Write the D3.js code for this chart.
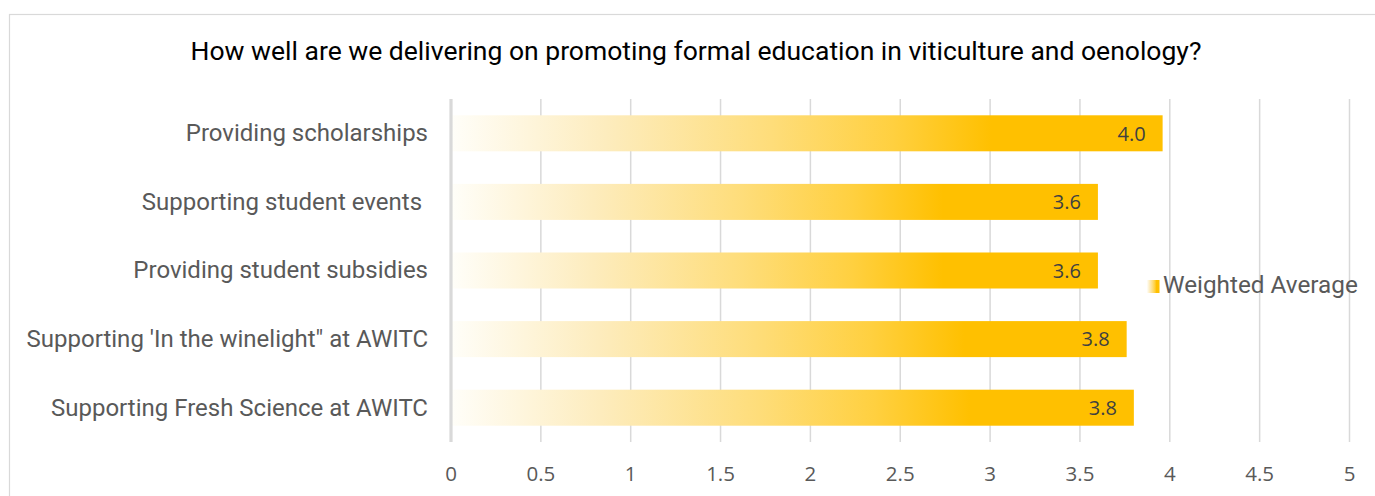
<!DOCTYPE html>
<html><head><meta charset="utf-8">
<script src="https://cdn.jsdelivr.net/npm/d3@7"></script>
<style>
html,body{margin:0;padding:0;background:#fff;}
svg{display:block;}
</style></head>
<body>
<svg id="chart" width="1375" height="496"></svg>
<script>
const title = "How well are we delivering on promoting formal education in viticulture and oenology?";
const categories = [
  "Providing scholarships",
  "Supporting student events ",
  "Providing student subsidies",
  "Supporting 'In the winelight\" at AWITC",
  "Supporting Fresh Science at AWITC"
];
const values = [3.96, 3.6, 3.6, 3.76, 3.8];
const seriesName = "Weighted Average";
const xTicks = [0, 0.5, 1, 1.5, 2, 2.5, 3, 3.5, 4, 4.5, 5];

const svg = d3.select("#chart");
const W = 1375, H = 496;
const plot = {left: 451, right: 1349.5, top: 99, bottom: 442};

// gradient
const defs = svg.append("defs");
const grad = defs.append("linearGradient").attr("id", "barGrad")
  .attr("x1", "0%").attr("x2", "100%").attr("y1", "0%").attr("y2", "0%");
[[0, "#fffef9"], [0.22, "#fdecbd"], [0.45, "#fedd7a"], [0.62, "#ffd040"], [0.76, "#ffc000"], [1, "#ffc000"]]
  .forEach(([o, c]) => grad.append("stop").attr("offset", o).attr("stop-color", c));

// border
svg.append("rect").attr("x", 9.5).attr("y", 14.5).attr("width", W).attr("height", H)
  .attr("fill", "none").attr("stroke", "#d9d9d9").attr("stroke-width", 1.2);

const x = d3.scaleLinear().domain([0, 5]).range([plot.left, plot.right]);
const y = d3.scaleBand().domain(categories).range([plot.top, plot.bottom]).paddingInner(0.475).paddingOuter(0.2375);

// gridlines
svg.append("g").selectAll("line").data(xTicks.filter(d => d !== 0)).join("line")
  .attr("x1", d => x(d)).attr("x2", d => x(d))
  .attr("y1", plot.top).attr("y2", plot.bottom)
  .attr("stroke", "#d9d9d9").attr("stroke-width", 1.5);

// bars
svg.append("g").selectAll("rect").data(values).join("rect")
  .attr("x", x(0))
  .attr("y", (d, i) => y(categories[i]))
  .attr("width", d => x(d) - x(0))
  .attr("height", y.bandwidth())
  .attr("fill", "url(#barGrad)");

// zero axis line
svg.append("line").attr("x1", x(0)).attr("x2", x(0)).attr("y1", plot.top).attr("y2", plot.bottom)
  .attr("stroke", "#d9d9d9").attr("stroke-width", 3.2);

// data labels
svg.append("g").selectAll("text").data(values).join("text")
  .attr("x", d => x(d) - 17)
  .attr("y", (d, i) => y(categories[i]) + y.bandwidth() / 2)
  .attr("dy", "0.36em")
  .attr("text-anchor", "end")
  .attr("font-family", "'Open Sans', sans-serif")
  .attr("font-size", 20)
  .attr("fill", "#404040")
  .text(d => d3.format(".1f")(d));

// category labels
svg.append("g").selectAll("text").data(categories).join("text")
  .attr("x", 428)
  .attr("y", d => y(d) + y.bandwidth() / 2)
  .attr("dy", "0.33em")
  .attr("text-anchor", "end")
  .attr("font-family", "Roboto, sans-serif")
  .attr("font-size", 24)
  .attr("fill", "#595959")
  .style("white-space", "pre")
  .text(d => d);

// x tick labels
svg.append("g").selectAll("text").data(xTicks).join("text")
  .attr("x", d => x(d))
  .attr("y", 481)
  .attr("text-anchor", "middle")
  .attr("font-family", "'Open Sans', sans-serif")
  .attr("font-size", 20.5)
  .attr("fill", "#595959")
  .text(d => d);

// title
svg.append("text").attr("x", 696).attr("y", 60).attr("text-anchor", "middle")
  .attr("font-family", "Roboto, sans-serif").attr("font-size", 26.5).attr("fill", "#000")
  .text(title);

// legend
const lg = svg.append("g").attr("transform", "translate(1147,280)");
lg.append("rect").attr("width", 12.5).attr("height", 13).attr("fill", "url(#barGrad)");
lg.append("text").attr("x", 16).attr("y", 13.2)
  .attr("font-family", "Roboto, sans-serif").attr("font-size", 24.3).attr("fill", "#595959")
  .text(seriesName);
</script>
</body></html>
